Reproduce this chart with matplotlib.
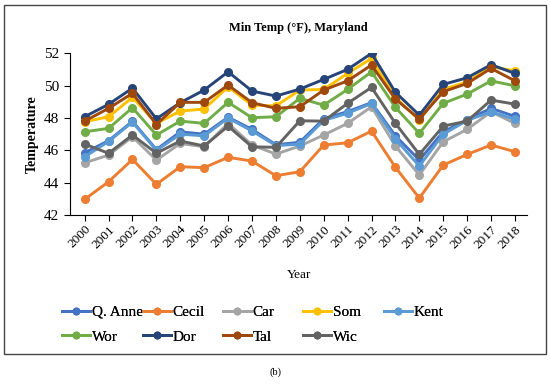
import matplotlib.pyplot as plt
from matplotlib.patches import Rectangle

## data =======================================================================
years = [str(y) for y in range(2000, 2019)]

q_anne = [45.85, 46.6, 47.8, 46.05, 47.15, 47.0, 48.05, 47.3, 46.35, 46.5,
          47.95, 48.4, 48.95, 46.9, 45.4, 47.15, 47.9, 48.6, 48.1]
cecil = [42.97, 44.06, 45.44, 43.9, 44.99, 44.93, 45.57, 45.34, 44.43, 44.68,
         46.33, 46.47, 47.19, 44.95, 43.05, 45.09, 45.75, 46.33, 45.92]
car = [45.23, 45.71, 46.84, 45.4, 46.43, 46.22, 47.67, 46.33, 45.77, 46.27,
       46.95, 47.67, 48.7, 46.27, 44.48, 46.53, 47.3, 48.39, 47.67]
som = [47.77, 48.08, 49.28, 47.67, 48.43, 48.56, 49.93, 48.8, 48.75, 49.73,
       49.77, 50.76, 51.69, 49.28, 47.87, 49.77, 50.24, 51.17, 50.92]
kent = [45.6, 46.55, 47.75, 46.0, 47.0, 46.9, 48.0, 47.2, 46.3, 46.38,
        47.85, 48.3, 48.9, 46.7, 45.03, 47.0, 47.85, 48.39, 47.92]
wor = [47.15, 47.36, 48.64, 46.95, 47.81, 47.67, 48.97, 48.02, 48.08, 49.22,
       48.8, 49.77, 50.86, 48.66, 47.05, 48.91, 49.48, 50.3, 49.99]
dor = [48.08, 48.85, 49.85, 47.95, 48.95, 49.73, 50.86, 49.67, 49.36, 49.79,
       50.39, 51.01, 52.0, 49.59, 48.18, 50.08, 50.49, 51.3, 50.76]
tal = [47.81, 48.6, 49.53, 47.6, 48.97, 48.97, 50.04, 48.95, 48.6, 48.7,
       49.73, 50.3, 51.28, 49.17, 47.94, 49.63, 50.14, 51.07, 50.3]
wic = [46.39, 45.82, 46.95, 45.82, 46.58, 46.27, 47.5, 46.22, 46.19, 47.83,
       47.81, 48.91, 49.9, 47.67, 45.75, 47.5, 47.81, 49.11, 48.86]

series = [("Q. Anne", q_anne, "#4472C4"), ("Cecil", cecil, "#ED7D31"),
          ("Car", car, "#A5A5A5"), ("Som", som, "#FFC000"),
          ("Kent", kent, "#5B9BD5"), ("Wor", wor, "#70AD47"),
          ("Dor", dor, "#264478"), ("Tal", tal, "#9E480E"),
          ("Wic", wic, "#636363")]
# =============================================================================

plt.rcParams['font.family'] = ['Liberation Serif', 'DejaVu Serif']

fig = plt.figure(figsize=(5.5, 3.84), dpi=100)
ax = fig.add_axes([0.127, 0.44, 0.831, 0.421])

x = list(range(len(years)))
lines = []
for name, vals, col in series:
    ln, = ax.plot(x, vals, color=col, lw=2.1, marker='o', ms=5.5, label=name)
    lines.append(ln)

ax.set_xlim(-0.62, 18.5)
ax.set_ylim(42, 52)
ax.set_yticks([42, 44, 46, 48, 50, 52])
ax.set_xticks(x)
ax.set_xticklabels(years, rotation=45, ha='right', rotation_mode='anchor',
                   fontsize=9.5)
ax.tick_params(axis='y', labelsize=11, direction='out', length=4)
ax.tick_params(axis='x', direction='out', length=4, pad=2)
ax.spines['top'].set_visible(False)
ax.spines['right'].set_visible(False)

ax.set_title("Min Temp (°F), Maryland", fontsize=9, fontweight='bold', pad=16)
ax.set_ylabel("Temperature", fontsize=10, fontweight='bold', labelpad=4)
fig.text(0.543, 0.285, "Year", ha='center', va='center', fontsize=9.5)

# legend: 5 equal-width columns, filled row by row
col_x = [62, 143, 223, 303, 384]
for j in range(5):
    hs = [lines[j]] + ([lines[j + 5]] if j + 5 < len(lines) else [])
    y_mid = 324.5 if len(hs) == 2 else 312
    leg = fig.legend(handles=hs, loc='center left',
                     bbox_to_anchor=(col_x[j] / 550, 1 - y_mid / 384),
                     frameon=False, fontsize=11, handlelength=1.85,
                     handletextpad=0.1, labelspacing=0.72, borderpad=0,
                     borderaxespad=0, markerscale=0.85)
    fig.add_artist(leg)

fig.patches.append(Rectangle((0.008, 0.077), 0.984, 0.91, transform=fig.transFigure,
                             fill=False, edgecolor='#444444', lw=1.0))
fig.text(0.5, 0.03, "(b)", ha='center', va='center', fontsize=7.5)

plt.savefig('out.png', dpi=100)
plt.close()
